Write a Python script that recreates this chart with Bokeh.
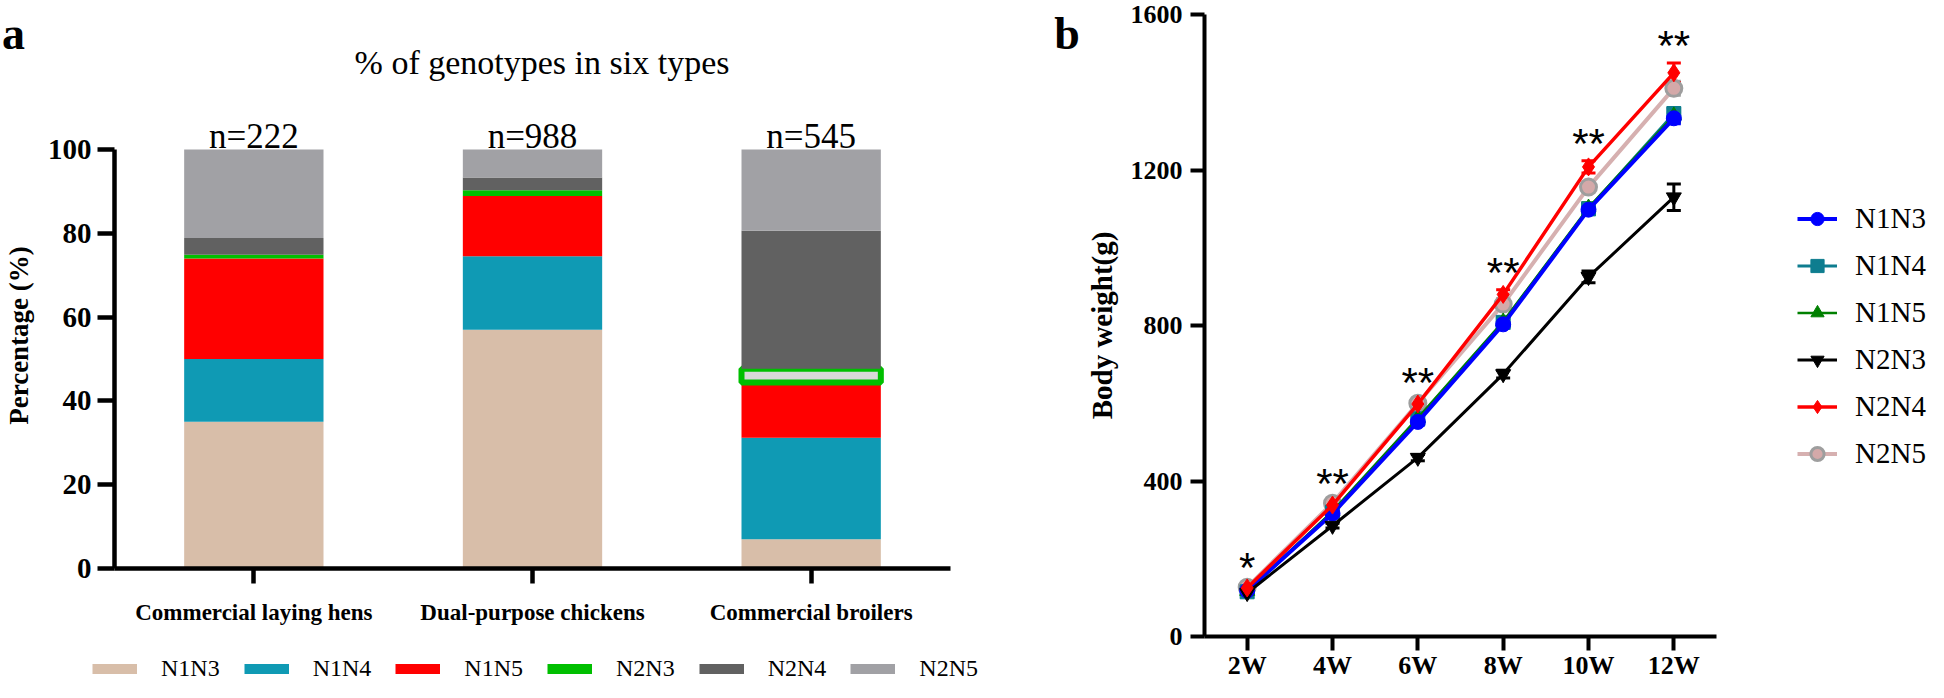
import numpy as np
from bokeh.plotting import figure
from bokeh.models import (ColumnDataSource, Range1d, FixedTicker, Legend, LegendItem,
                          Whisker, TeeHead, Label)
from bokeh.layouts import row, column
from bokeh.embed import file_html
from bokeh.resources import INLINE
from bokeh.core.properties import value

# ---------------- Panel a data ----------------
groups = ["Commercial laying hens", "Dual-purpose chickens", "Commercial broilers"]
group_n = ["n=222", "n=988", "n=545"]
genotypes = ["N1N3", "N1N4", "N1N5", "N2N3", "N2N4", "N2N5"]
pct_N1N3 = [35.0, 57.0, 7.0]
pct_N1N4 = [15.0, 17.5, 24.2]
pct_N1N5 = [24.0, 14.4, 13.2]
pct_N2N3 = [0.9, 1.4, 3.3]
pct_N2N4 = [4.0, 3.0, 32.9]
pct_N2N5 = [21.1, 6.7, 19.4]
pct_ticks = [0, 20, 40, 60, 80, 100]
title_a = "% of genotypes in six types"

# ---------------- Panel b data ----------------
weeks = ["2W", "4W", "6W", "8W", "10W", "12W"]
bw_N1N3 = [118, 316, 552, 803, 1098, 1333]
bw_N1N4 = [115, 320, 560, 808, 1100, 1345]
bw_N1N5 = [117, 322, 562, 810, 1103, 1340]
bw_N2N3 = [112, 285, 460, 675, 925, 1130]
bw_N2N4 = [125, 338, 598, 880, 1208, 1450]
bw_N2N5 = [127, 343, 600, 855, 1156, 1410]
sem_N1N3 = [4, 6, 8, 10, 12, 14]
sem_N1N4 = [4, 6, 8, 10, 12, 16]
sem_N1N5 = [5, 7, 9, 11, 13, 17]
sem_N2N3 = [4, 6, 8, 10, 15, 34]
sem_N2N4 = [5, 8, 10, 12, 16, 25]
sem_N2N5 = [5, 6, 8, 10, 12, 18]
significance = ["*", "**", "**", "**", "**", "**"]
bw_ticks = [0, 400, 800, 1200, 1600]

SERIF = "Liberation Serif"
SANS = "Liberation Sans"
NAN = [float("nan")]


def strip(width, height, xr, yr):
    p = figure(width=width, height=height, x_range=xr, y_range=yr,
               x_axis_location=None, y_axis_location=None,
               output_backend="svg", toolbar_location=None,
               min_border_left=0, min_border_right=0, min_border_top=0, min_border_bottom=0)
    p.outline_line_color = None
    p.grid.visible = False
    return p


def label(p, x, y, text, size, bold=False, align="center", baseline="alphabetic", angle=0):
    p.add_layout(Label(x=x, y=y, text=text, text_font=SERIF,
                       text_font_style="bold" if bold else "normal", text_font_size=size,
                       text_align=align, text_baseline=baseline, text_color="black", angle=angle))


# ================= Panel a =================
bar_colors = ["#d8bea9", "#0f9ab4", "#ff0000", "#00bf00", "#616161", "#a1a1a5"]
pct_series = [pct_N1N3, pct_N1N4, pct_N1N5, pct_N2N3, pct_N2N4, pct_N2N5]
n2n3_fill = ["#00bf00", "#00bf00", "#d9d9d9"]
n2n3_edge_alpha = [0, 0, 1]

PX = 280.5          # pixels per category in panel a
PY = 4.19           # pixels per percent in panel a
A_LEFT = 109

# header strip (panel letter + title)
ta = strip(1040, 102, Range1d(-0.5 - A_LEFT / PX, -0.5 + (1040 - A_LEFT) / PX),
           Range1d(100 + 47 / PY, 100 + 149 / PY))
label(ta, -0.842, 127.7, "a", "46px", bold=True)
label(ta, 1.042, 120.7, title_a, "34px")

pa = figure(width=1040, height=535, x_range=Range1d(-0.5, 2.5), y_range=Range1d(0, 100 + 47 / PY),
            output_backend="svg", toolbar_location=None,
            min_border_left=A_LEFT, min_border_right=90, min_border_top=0, min_border_bottom=69)
pa.outline_line_color = None
pa.grid.visible = False

xi = list(range(len(groups)))
bottom = np.zeros(len(groups))
for name, vals, col in zip(genotypes, pct_series, bar_colors):
    top = bottom + np.array(vals)
    if name == "N2N3":
        src = ColumnDataSource(dict(x=xi, b=bottom, t=top, f=n2n3_fill, la=n2n3_edge_alpha))
        pa.vbar(x="x", bottom="b", top="t", width=0.5, fill_color="f", line_color=col,
                line_alpha="la", line_width=6, source=src)
    else:
        src = ColumnDataSource(dict(x=xi, b=bottom, t=top))
        pa.vbar(x="x", bottom="b", top="t", width=0.5, fill_color=col, line_color=None, source=src)
    bottom = top
totals = bottom

for i, (tot, nlab) in enumerate(zip(totals, group_n)):
    label(pa, i, tot + 3.0, nlab, "35px")

for ax in (pa.xaxis[0], pa.yaxis[0]):
    ax.axis_line_width = 4.5
    ax.axis_line_color = "black"
    ax.major_tick_line_width = 4.5
    ax.major_tick_line_color = "black"
    ax.major_tick_in = 0
    ax.minor_tick_line_color = None
    ax.major_label_text_font = SERIF
    ax.major_label_text_font_style = "bold"
    ax.major_label_text_color = "black"
pa.yaxis.bounds = (0, 100)
pa.yaxis.ticker = FixedTicker(ticks=pct_ticks)
pa.yaxis.major_label_text_font_size = "29px"
pa.yaxis.major_tick_out = 17
pa.yaxis.major_label_standoff = 6
pa.yaxis.axis_label = "Percentage (%)"
pa.yaxis.axis_label_text_font = SERIF
pa.yaxis.axis_label_text_font_style = "bold"
pa.yaxis.axis_label_text_font_size = "27px"
pa.yaxis.axis_label_text_color = "black"
pa.yaxis.axis_label_standoff = 11
pa.xaxis.ticker = FixedTicker(ticks=xi)
pa.xaxis.major_label_overrides = {i: g for i, g in enumerate(groups)}
pa.xaxis.major_label_text_font_size = "23px"
pa.xaxis.major_tick_out = 15
pa.xaxis.major_label_standoff = 16

# legend strip for panel a
la = strip(1040, 45, Range1d(0, 1), Range1d(0, 1))
a_items = []
for name, col in zip(genotypes, bar_colors):
    r = la.line(x=NAN, y=NAN, line_color=col, line_width=10)
    a_items.append(LegendItem(label=name, renderers=[r]))
leg_a = Legend(items=a_items, orientation="horizontal", location=(92, 0),
               glyph_width=45, glyph_height=27, label_height=27, label_standoff=24, spacing=24,
               padding=0, margin=0, border_line_color=None, background_fill_alpha=0,
               label_text_font=SERIF, label_text_font_size="24px", label_text_color="black")
la.add_layout(leg_a, "center")

# wrap the strips so that their frames are not aligned with the main plot's frame
panel_a = column(row(ta), pa, row(la))

# ================= Panel b =================
sb = strip(42, 682, Range1d(0, 42), Range1d(682, 0))
label(sb, 26.5, 33, "b", "46px", bold=True)

pb = figure(width=644, height=682, x_range=Range1d(-0.5, 5.5), y_range=Range1d(0, 1600),
            output_backend="svg", toolbar_location=None,
            min_border_left=120, min_border_right=10, min_border_top=14, min_border_bottom=44)
pb.outline_line_color = None
pb.grid.visible = False

wx = list(range(len(weeks)))
series_b = {
    "N1N3": (bw_N1N3, sem_N1N3, dict(color="#0000ff", marker="circle", size=15, lw=4,
                                     fill="#0000ff", edge="#0000ff", ew=1)),
    "N1N4": (bw_N1N4, sem_N1N4, dict(color="#0e7d8f", marker="square", size=14, lw=3,
                                     fill="#0e7d8f", edge="#0e7d8f", ew=1)),
    "N1N5": (bw_N1N5, sem_N1N5, dict(color="#008000", marker="triangle", size=15, lw=2.5,
                                     fill="#008000", edge="#008000", ew=1)),
    "N2N3": (bw_N2N3, sem_N2N3, dict(color="#000000", marker="inverted_triangle", size=15, lw=3,
                                     fill="#000000", edge="#000000", ew=1)),
    "N2N4": (bw_N2N4, sem_N2N4, dict(color="#ff0000", marker="diamond", size=18, lw=3.5,
                                     fill="#ff0000", edge="#ff0000", ew=1)),
    "N2N5": (bw_N2N5, sem_N2N5, dict(color="#d6b0b0", marker="circle", size=16, lw=4,
                                     fill="#d4a9a9", edge="#9e9e9e", ew=3)),
}
draw_order = ["N2N5", "N1N4", "N1N5", "N1N3", "N2N3", "N2N4"]
for name in draw_order:
    vals, sems, st = series_b[name]
    up = [v + s for v, s in zip(vals, sems)]
    lo = [v - s for v, s in zip(vals, sems)]
    src = ColumnDataSource(dict(x=wx, y=vals, upper=up, lower=lo))
    wcol = st["edge"] if name == "N2N5" else st["color"]
    pb.add_layout(Whisker(base="x", upper="upper", lower="lower", source=src,
                          line_color=wcol, line_width=3,
                          upper_head=TeeHead(size=14, line_color=wcol, line_width=3),
                          lower_head=TeeHead(size=14, line_color=wcol, line_width=3)))
    pb.line(x="x", y="y", source=src, line_color=st["color"], line_width=st["lw"])
    pb.scatter(x="x", y="y", source=src, marker=st["marker"], size=st["size"],
               fill_color=st["fill"], line_color=st["edge"], line_width=st["ew"])

# significance stars above the highest error bar of each week
tops = np.max([[v + s for v, s in zip(series_b[n][0], series_b[n][1])] for n in series_b], axis=0)
ssrc = ColumnDataSource(dict(x=wx, y=list(tops + 45), t=significance))
pb.text(x="x", y="y", text="t", source=ssrc, text_font=value(SANS), text_font_size="42px",
        text_align="center", text_baseline="middle", text_color="black")

for ax in (pb.xaxis[0], pb.yaxis[0]):
    ax.axis_line_width = 4
    ax.axis_line_color = "black"
    ax.major_tick_line_width = 4
    ax.major_tick_line_color = "black"
    ax.major_tick_in = 0
    ax.major_tick_out = 14
    ax.minor_tick_line_color = None
    ax.major_label_text_font = SERIF
    ax.major_label_text_font_style = "bold"
    ax.major_label_text_color = "black"
pb.yaxis.ticker = FixedTicker(ticks=bw_ticks)
pb.yaxis.major_label_text_font_size = "26px"
pb.yaxis.major_label_standoff = 8
pb.yaxis.axis_label = "Body weight(g)"
pb.yaxis.axis_label_text_font = SERIF
pb.yaxis.axis_label_text_font_style = "bold"
pb.yaxis.axis_label_text_font_size = "29px"
pb.yaxis.axis_label_text_color = "black"
pb.yaxis.axis_label_standoff = 10
pb.xaxis.ticker = FixedTicker(ticks=wx)
pb.xaxis.major_label_overrides = {i: w for i, w in enumerate(weeks)}
pb.xaxis.major_label_text_font_size = "26px"
pb.xaxis.major_label_standoff = 0

# legend strip for panel b
lb = strip(202, 682, Range1d(0, 1), Range1d(0, 1))
b_items = []
for name in genotypes:
    vals, sems, st = series_b[name]
    lr = lb.line(x=NAN, y=NAN, line_color=st["color"], line_width=st["lw"])
    sr = lb.scatter(x=NAN, y=NAN, marker=st["marker"], size=st["size"], fill_color=st["fill"],
                    line_color=st["edge"], line_width=st["ew"])
    b_items.append(LegendItem(label=name, renderers=[lr, sr]))
leg_b = Legend(items=b_items, orientation="vertical", location=(71, 212),
               glyph_width=40, glyph_height=33, label_height=33, label_standoff=18, spacing=14,
               padding=0, margin=0, border_line_color=None, background_fill_alpha=0,
               label_text_font=SERIF, label_text_font_size="29px", label_text_color="black")
lb.add_layout(leg_b, "center")

layout = row(panel_a, row(sb), pb, row(lb))
open("out.html", "w").write(file_html(layout, INLINE))
